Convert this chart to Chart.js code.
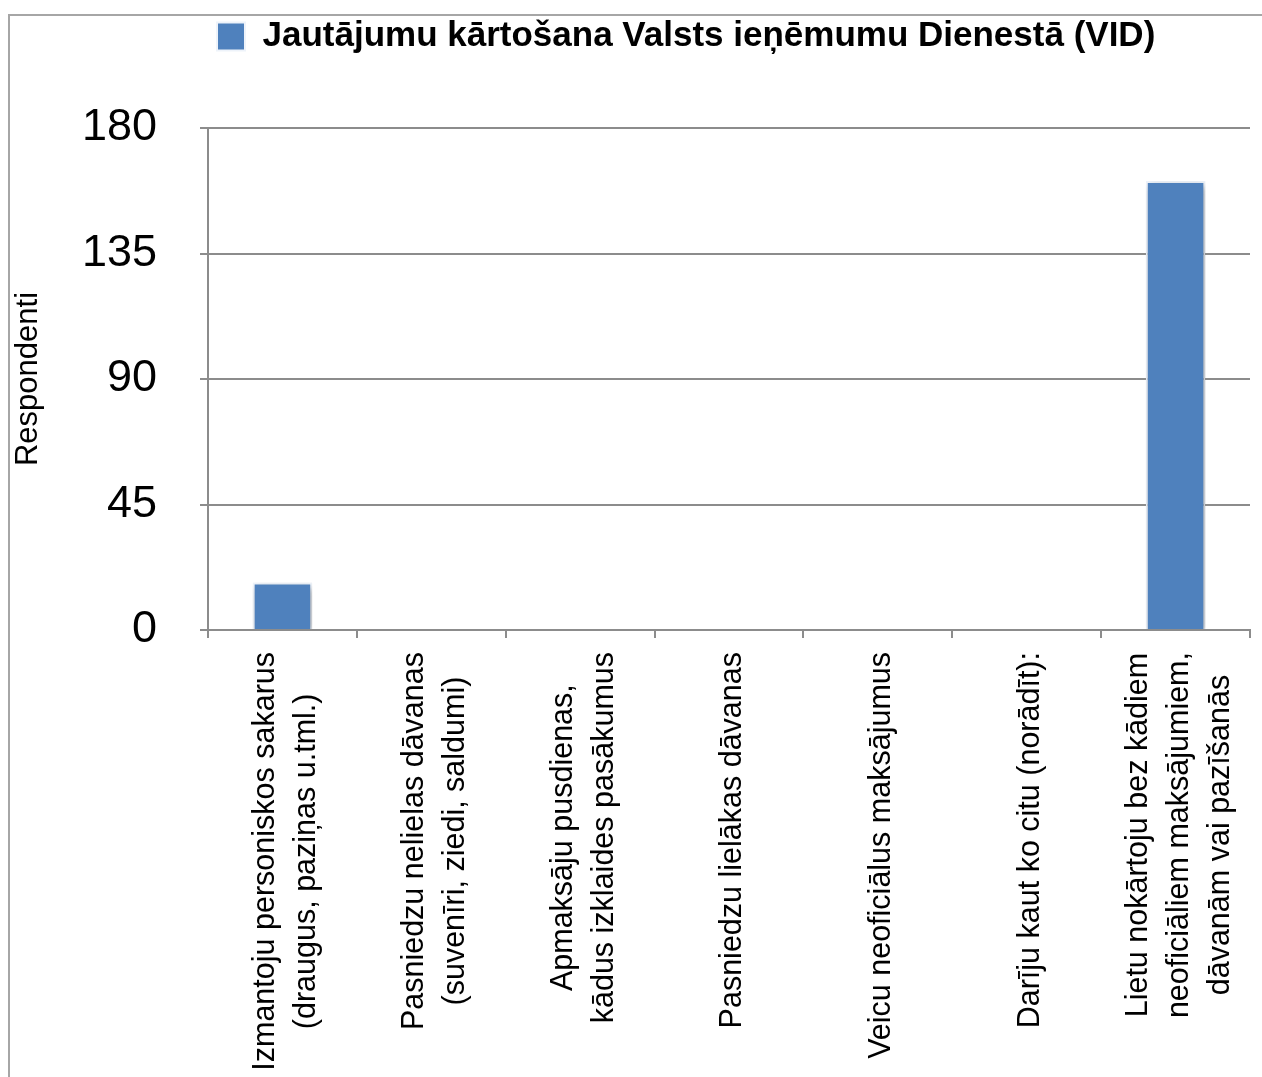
<!DOCTYPE html>
<html>
<head>
<meta charset="utf-8">
<script src="https://cdn.jsdelivr.net/npm/chart.js@4"></script>
<style>
  html, body { margin: 0; padding: 0; background: #fff; overflow: hidden; }
  .frame { position: absolute; left: 8px; top: 14px; width: 1400px; height: 1200px;
           border-left: 2px solid #a6a6a6; border-top: 2px solid #a6a6a6; }
  .wrap { position: absolute; left: 0; top: 0; width: 1262px; height: 1077px; }
</style>
</head>
<body>
<div class="frame"></div>
<div class="wrap"><canvas id="chart"></canvas></div>
<script>
// kategorijas (katra rinda = viena rindiņa uz ass)
const categories = [
  ['Izmantoju personiskos sakarus', '(draugus, paziņas u.tml.)'],
  ['Pasniedzu nelielas dāvanas', '(suvenīri, ziedi, saldumi)'],
  ['Apmaksāju pusdienas,', 'kādus izklaides pasākumus'],
  ['Pasniedzu lielākas dāvanas'],
  ['Veicu neoficiālus maksājumus'],
  ['Darīju kaut ko citu (norādīt):'],
  ['Lietu nokārtoju bez kādiem', 'neoficiāliem maksājumiem,', 'dāvanām vai pazīšanās']
];
const seriesName = 'Jautājumu kārtošana Valsts ieņēmumu Dienestā (VID)';
const values = [17, 0, 0, 0, 0, 0, 161];
const yTicks = [0, 45, 90, 135, 180];
const yTitle = 'Respondenti';

const BLUE = '#4f81bd';
const GRID = '#8c8c8c';
const FONT = "'Liberation Sans', Helvetica, Arial, sans-serif";

// leģendu novieto pa kreisi, kā oriģinālā
const legendPlacer = {
  id: 'legendPlacer',
  afterLayout(chart) {
    const lg = chart.legend;
    const w = lg.right - lg.left;
    const h = lg.bottom - lg.top;
    lg.left = 217 - lg.options.labels.padding;
    lg.right = lg.left + w;
    lg.top = 9;
    lg.bottom = lg.top + h;
  }
};

// stabiņu ēna
const barShadow = {
  id: 'barShadow',
  beforeDatasetsDraw(chart) {
    const ctx = chart.ctx;
    ctx.save();
    ctx.shadowColor = 'rgba(0,0,0,0.35)';
    ctx.shadowBlur = 7;
    ctx.shadowOffsetX = 2;
    ctx.shadowOffsetY = 3;
  },
  afterDatasetsDraw(chart) {
    chart.ctx.restore();
  }
};

// pagriezti, centrēti vairāku rindu kategoriju nosaukumi
const xLabels = {
  id: 'xLabels',
  afterDraw(chart) {
    const ctx = chart.ctx;
    const xs = chart.scales.x;
    const fontSize = 30.5;
    const lineH = 41;
    ctx.save();
    ctx.font = `${fontSize}px ${FONT}`;
    ctx.fillStyle = '#000';
    ctx.textBaseline = 'middle';
    ctx.textAlign = 'center';
    categories.forEach((lines, i) => {
      const x = xs.getPixelForValue(i) + 4;
      const maxW = Math.max(...lines.map(l => ctx.measureText(l).width));
      ctx.save();
      ctx.translate(x, xs.top + 22);
      ctx.rotate(-Math.PI / 2);
      lines.forEach((l, k) => {
        const dy = (k - (lines.length - 1) / 2) * lineH;
        ctx.fillText(l, -maxW / 2, dy);
      });
      ctx.restore();
    });
    ctx.restore();
  }
};

new Chart(document.getElementById('chart'), {
  type: 'bar',
  data: {
    labels: categories,
    datasets: [{
      label: seriesName,
      data: values,
      backgroundColor: BLUE,
      borderColor: '#eef3fa',
      borderWidth: 2,
      barPercentage: 0.4,
      categoryPercentage: 1
    }]
  },
  options: {
    responsive: true,
    maintainAspectRatio: false,
    animation: false,
    layout: { padding: { top: 73, right: 12, left: 0, bottom: 0 } },
    plugins: {
      legend: {
        display: true,
        position: 'top',
        align: 'start',
        labels: {
          boxWidth: 28,
          boxHeight: 28,
          padding: 10,
          color: '#000',
          font: { family: FONT, size: 35, weight: 'bold' }
        }
      },
      tooltip: { enabled: false }
    },
    scales: {
      x: {
        afterFit: (s) => { s.height = 447; },
        ticks: { display: false },
        grid: {
          display: true,
          offset: true,
          drawOnChartArea: false,
          drawTicks: true,
          tickLength: 8,
          color: GRID,
          lineWidth: 2
        },
        border: { display: true, color: GRID, width: 2 }
      },
      y: {
        min: 0,
        max: 180,
        afterFit: (s) => { s.width = 208; },
        afterBuildTicks: (s) => { s.ticks = yTicks.map(v => ({ value: v })); },
        ticks: {
          color: '#000',
          padding: 43,
          font: { family: FONT, size: 45 }
        },
        grid: {
          color: GRID,
          lineWidth: 2,
          tickLength: 8
        },
        border: { display: true, color: GRID, width: 2 },
        title: {
          display: true,
          text: yTitle,
          color: '#000',
          padding: { top: 10, bottom: 0 },
          font: { family: FONT, size: 31 }
        }
      }
    }
  },
  plugins: [legendPlacer, barShadow, xLabels]
});
</script>
</body>
</html>
